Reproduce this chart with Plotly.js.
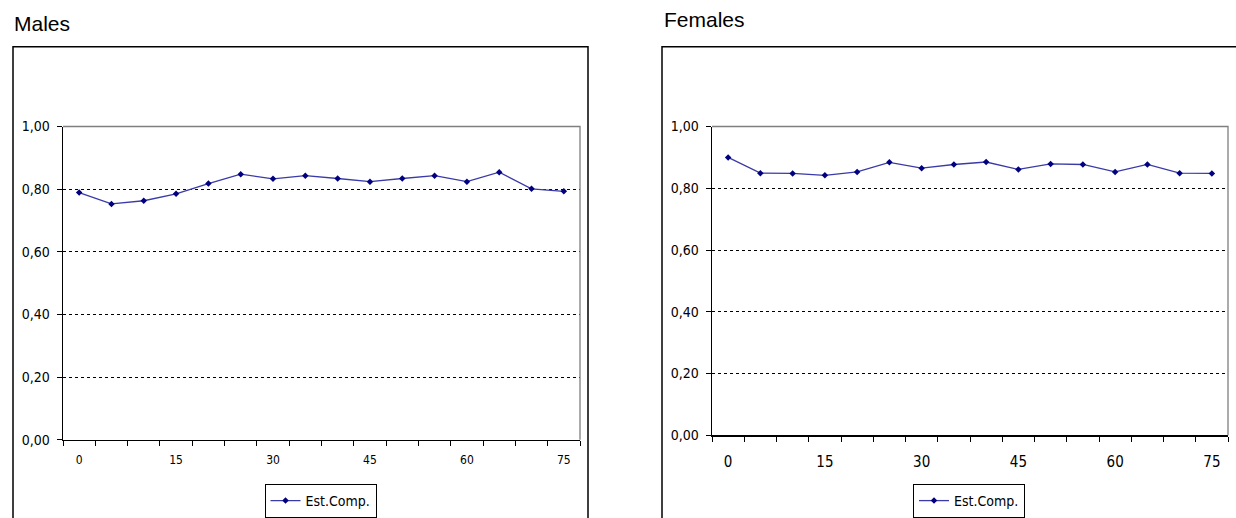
<!DOCTYPE html>
<html>
<head>
<meta charset="utf-8">
<script src="https://cdn.plot.ly/plotly-3.0.1.min.js"></script>
<style>
  html, body { margin: 0; padding: 0; background: #ffffff; }
  #chart { width: 1236px; height: 518px; }
</style>
</head>
<body>
<div id="chart"></div>
<script>
// ---- data ----
const ages = [0, 5, 10, 15, 20, 25, 30, 35, 40, 45, 50, 55, 60, 65, 70, 75];
const malesEstComp = [0.789, 0.753, 0.763, 0.785, 0.818, 0.848, 0.833, 0.843, 0.834, 0.824, 0.834, 0.843, 0.824, 0.854, 0.801, 0.793];
const femalesEstComp = [0.900, 0.849, 0.848, 0.842, 0.853, 0.884, 0.865, 0.877, 0.885, 0.861, 0.879, 0.877, 0.853, 0.877, 0.849, 0.848];
const xTickVals = [0, 15, 30, 45, 60, 75];
const xTickText = ['0', '15', '30', '45', '60', '75'];
const yTickVals = [0, 0.2, 0.4, 0.6, 0.8, 1.0];
const seriesName = 'Est.Comp.';
const panelTitles = ['Males', 'Females'];

// ---- layout helpers ----
const W = 1236, H = 518;
const px = v => v / W;
const py = v => 1 - v / H;
const narrow = 'Liberation Sans Narrow, DejaVu Sans Condensed, Arial Narrow, Liberation Sans, sans-serif';
const lineColor = '#3a3aa8';
const markerColor = '#000080';

function trace(y, xa, ya, lg) {
  return {
    x: ages, y: y, xaxis: xa, yaxis: ya, legend: lg,
    type: 'scatter', mode: 'lines+markers', name: seriesName,
    line: { color: lineColor, width: 1.3 },
    marker: { symbol: 'diamond', size: 5, color: markerColor },
    hoverinfo: 'skip'
  };
}

function xAxis(domain, anchor, fontSize, standoff) {
  return {
    domain: domain, anchor: anchor, range: [-2.5, 77.5],
    tickmode: 'array', tickvals: xTickVals, ticktext: xTickText,
    ticks: '', showgrid: false, zeroline: false,
    showline: true, linecolor: '#000000', linewidth: 1.3,
    tickfont: { family: narrow, size: fontSize, color: '#000000' },
    ticklabelstandoff: standoff,
    minor: { tick0: -2.5, dtick: 5, ticks: 'outside', ticklen: 5, tickcolor: '#000000', tickwidth: 1, showgrid: false },
    fixedrange: true
  };
}

function yAxis(domain, anchor, fontSize) {
  return {
    domain: domain, anchor: anchor, range: [0, 1],
    tickmode: 'array', tickvals: yTickVals, tickformat: '.2f',
    ticks: 'outside', ticklen: 5, tickcolor: '#000000', tickwidth: 1,
    showgrid: true, gridcolor: '#000000', gridwidth: 1, griddash: '3px,3px',
    zeroline: false, showline: true, linecolor: '#000000', linewidth: 1.3,
    tickfont: { family: narrow, size: fontSize, color: '#000000' },
    ticklabelstandoff: 4,
    fixedrange: true
  };
}

const data = [
  trace(malesEstComp, 'x', 'y', 'legend'),
  trace(femalesEstComp, 'x2', 'y2', 'legend2')
];

const mDom = { x: [px(63), px(580)], y: [py(441.5), py(127)] };
const fDom = { x: [px(712), px(1228)], y: [py(437), py(127)] };

const layout = {
  width: W, height: H,
  margin: { l: 0, r: 0, t: 0, b: 0 },
  paper_bgcolor: '#ffffff', plot_bgcolor: '#ffffff',
  separators: ',.',
  showlegend: true,
  xaxis: xAxis(mDom.x, 'y', 12, 9),
  yaxis: yAxis(mDom.y, 'x', 14),
  xaxis2: xAxis(fDom.x, 'y2', 15, 12),
  yaxis2: yAxis(fDom.y, 'x2', 14),
  legend: {
    x: px(320.5), xanchor: 'center', y: py(486), yanchor: 'top',
    bgcolor: '#ffffff', bordercolor: '#000000', borderwidth: 1,
    font: { family: narrow, size: 14, color: '#000000' },
    itemwidth: 30, tracegroupgap: 0
  },
  legend2: {
    x: px(969), xanchor: 'center', y: py(486), yanchor: 'top',
    bgcolor: '#ffffff', bordercolor: '#000000', borderwidth: 1,
    font: { family: narrow, size: 14, color: '#000000' },
    itemwidth: 30, tracegroupgap: 0
  },
  shapes: [
    // outer chart frames
    { type: 'rect', xref: 'paper', yref: 'paper', x0: px(13), x1: px(588), y0: py(530), y1: py(47),
      line: { color: '#000000', width: 1.5 }, layer: 'below' },
    { type: 'rect', xref: 'paper', yref: 'paper', x0: px(662), x1: px(1245), y0: py(530), y1: py(47),
      line: { color: '#000000', width: 1.5 }, layer: 'below' },
    // plot-area top/right borders (grey)
    { type: 'path', xref: 'x domain', yref: 'y domain', path: 'M 0,1 L 1,1 L 1,0',
      line: { color: '#7f7f7f', width: 1.3 } },
    { type: 'path', xref: 'x2 domain', yref: 'y2 domain', path: 'M 0,1 L 1,1 L 1,0',
      line: { color: '#7f7f7f', width: 1.3 } }
  ],
  annotations: [
    { text: panelTitles[0], xref: 'paper', yref: 'paper', x: px(12), y: py(24), xanchor: 'left', yanchor: 'middle',
      showarrow: false, font: { family: 'Liberation Sans, Arial, sans-serif', size: 21, color: '#000000' } },
    { text: panelTitles[1], xref: 'paper', yref: 'paper', x: px(662), y: py(20), xanchor: 'left', yanchor: 'middle',
      showarrow: false, font: { family: 'Liberation Sans, Arial, sans-serif', size: 21, color: '#000000' } }
  ]
};

Plotly.newPlot('chart', data, layout, { displayModeBar: false, staticPlot: true });
</script>
</body>
</html>
